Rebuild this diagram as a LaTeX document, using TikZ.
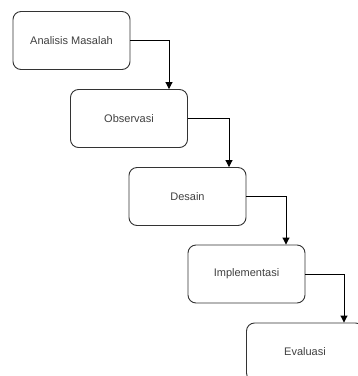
\documentclass[tikz,border=0pt]{standalone}
\usepackage{fontspec}
\setmainfont{Liberation Sans}
\usetikzlibrary{arrows.meta}
\begin{document}
\begin{tikzpicture}[x=1pt,y=-1pt,
  stepbox/.style={draw=black!80, line width=0.9pt, rounded corners=8pt, minimum width=117pt, minimum height=58pt, inner sep=0pt, font=\fontsize{11}{13}\selectfont, text=black!75, fill=white},
  conn/.style={draw=black, line width=0.9pt, -{Triangle[length=7pt,width=7pt]}}]
\useasboundingbox (0,0) rectangle (358,376);
\clip (0,0) rectangle (358,376);
\fill[white] (0,0) rectangle (358,376);
\node[stepbox] (a) at (71.5,40.5) {Analisis Masalah};
\node[stepbox] (b) at (129,118.5) {Observasi};
\node[stepbox] (c) at (187.5,196.5) {Desain};
\node[stepbox] (d) at (246.5,274) {Implementasi};
\node[stepbox] (e) at (305,352) {Evaluasi};
\draw[conn] (a.east) -| ([xshift=40pt]b.north);
\draw[conn] (b.east) -| ([xshift=41.5pt]c.north);
\draw[conn] (c.east) -| ([xshift=39.5pt]d.north);
\draw[conn] (d.east) -| ([xshift=39pt]e.north);
\end{tikzpicture}
\end{document}
